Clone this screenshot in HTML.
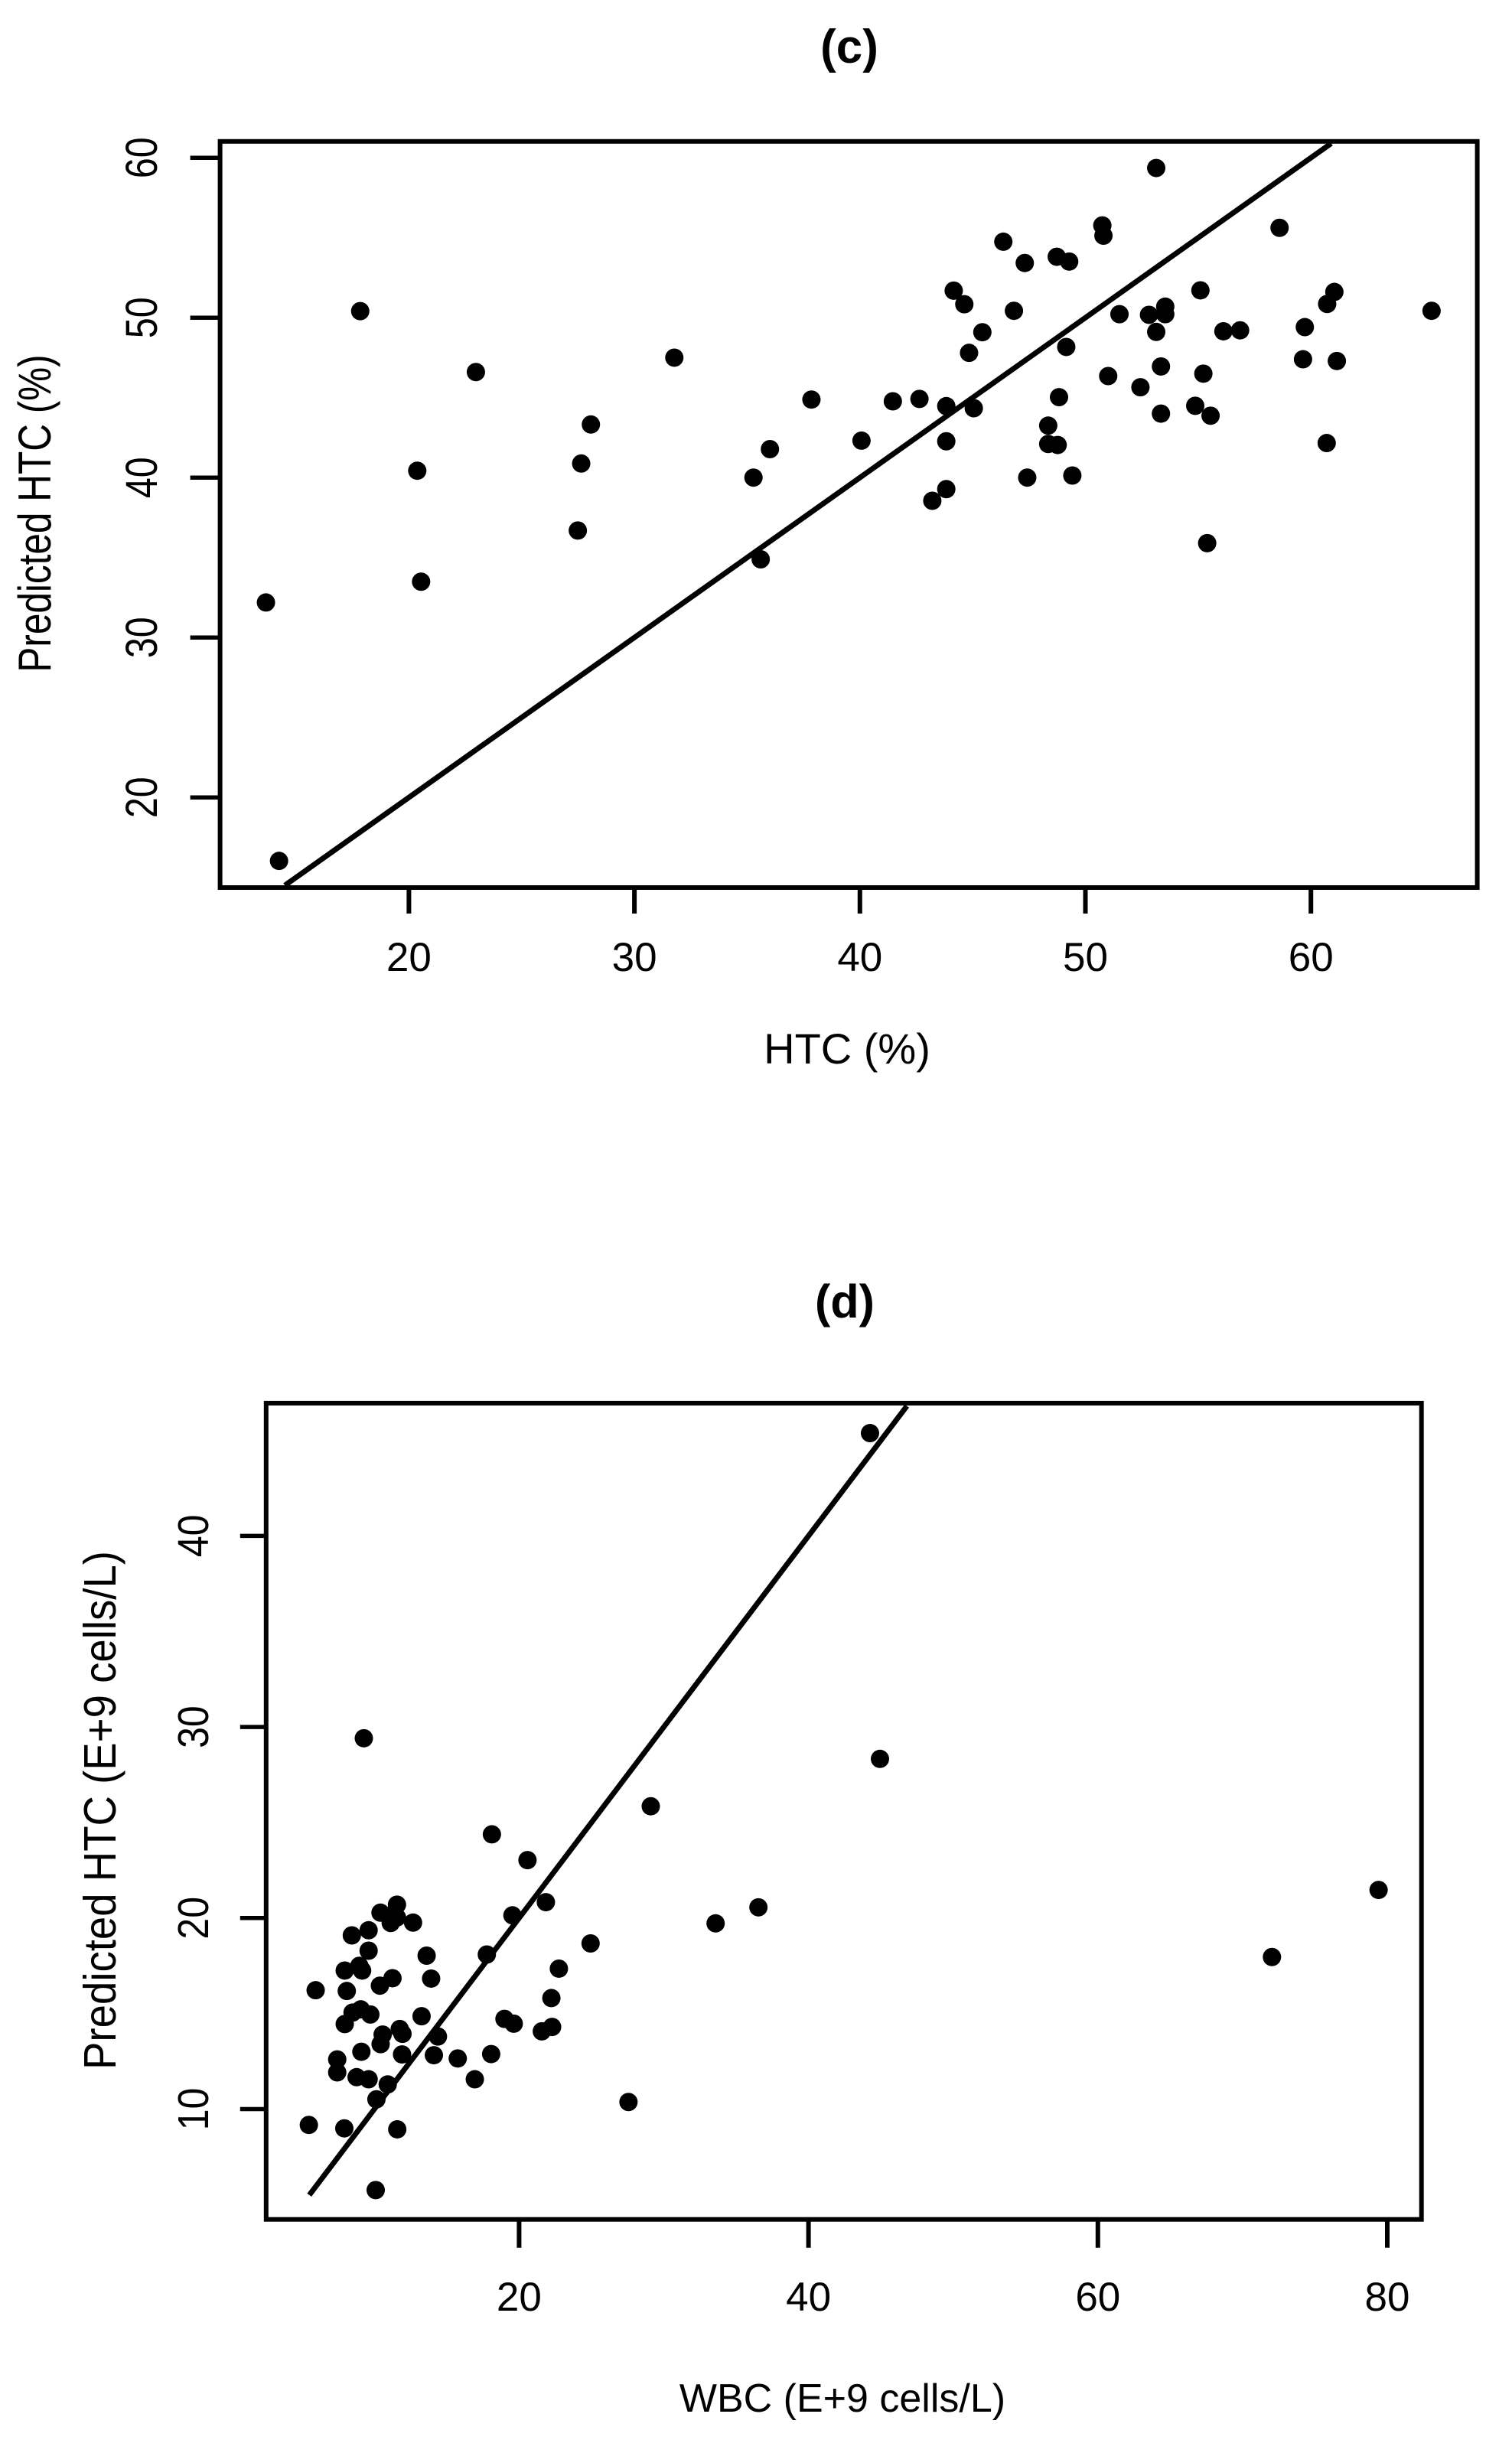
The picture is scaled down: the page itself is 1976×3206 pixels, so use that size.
<!DOCTYPE html>
<html lang="en">
<head>
<meta charset="utf-8">
<title>Predicted versus measured scatter plots</title>
<style>
html,body{margin:0;padding:0;background:#fff;}
svg{display:block;}
text{font-family:"Liberation Sans",sans-serif;fill:#000;}
</style>
</head>
<body>
<svg id="chart" xmlns="http://www.w3.org/2000/svg" width="1976" height="3206" viewBox="0 0 1976 3206">
  <rect x="0" y="0" width="1976" height="3206" fill="#fff"/>
  <g id="panel-c">
    <text x="1110" y="82" font-size="62" font-weight="bold" text-anchor="middle">(c)</text>
    <text x="1107" y="1390" font-size="56" text-anchor="middle">HTC (%)</text>
    <text text-anchor="middle" font-size="50" transform="translate(66,671) rotate(-90) scale(0.99,1.2)">Predicted HTC (%)</text>
  </g>
  <g id="panel-d">
    <text x="1104" y="1722" font-size="61" font-weight="bold" text-anchor="middle">(d)</text>
    <text x="1101" y="3152" font-size="52" text-anchor="middle">WBC (E+9 cells/L)</text>
    <text text-anchor="middle" font-size="52" transform="translate(151,2366) rotate(-90) scale(1.05,1.14)">Predicted HTC (E+9 cells/L)</text>
  </g>
</svg>
<script>
// Panel (c) data
const cXTicks = [20, 30, 40, 50, 60];
const cYTicks = [20, 30, 40, 50, 60];
const cActual = [17.84,22.97,31.77,28.07,20.37,27.64,35.28,27.49,13.66,20.54,14.24,35.6,53.14,50.75,50.8,58.61,46.36,47.31,48.73,49.28,44.16,44.63,46.83,55.1,61.04,60.72,65.35,51.51,52.82,53.54,53.54,45.43,44.84,53.14,49.15,56.12,56.86,59.73,59.65,61.15,53.35,51.01,52.44,55.23,37.85,41.46,42.64,43.83,45.05,48.83,48.35,53.35,54.87,55.55,40.07,43.83,48.35,48.77,60.7,47.42,49.42,43.83,43.21,36.01,55.4];
const cPredicted = [50.41,46.6,47.5,43.32,40.43,40.88,40,36.69,32.19,33.49,16.03,34.89,59.36,55.77,55.13,55.62,54.75,53.42,53.81,53.51,51.69,50.84,50.43,51.71,51.61,50.86,50.43,50.22,50.18,50.69,50.22,49.09,47.8,49.11,48.17,49.15,49.21,49.41,47.4,47.29,46.95,46.35,45.65,46.5,44.88,44.77,44.92,44.47,44.34,45.03,43.25,44,44.49,43.87,42.31,42.27,42.1,42.04,42.16,40,40.13,39.28,38.55,41.78,35.9];
const cLineX = [14.5, 60.9];
const cLineY = [14.5, 60.9];

// Panel (d) data
const dXTicks = [20, 40, 60, 80];
const dYTicks = [10, 20, 30, 40];
const dActual = [9.27,29.1,18.12,20.58,21.85,19.54,36.54,33.58,11.56,10.42,11.09,11.13,11.56,12.67,8.44,9.6,9.6,24.94,13.61,17.77,8.96,7.95,9.15,22.75,13.92,11.25,10.38,5.94,8.09,22.23,9.06,8.49,9.72,7.95,13.26,18.99,19.63,22.28,21.57,10.57,11.75,11.94,10.43,14.39,9.1,11.91,14.11,18.07,15.76,7.43,7.43,8.77,9.6,10.92,16.94,10.14,27.56,5.47,7.92,11.58,10.09,44.25,44.94,72.03,79.4];
const dPredicted = [29.41,25.85,24.38,23.03,20.83,20.14,20.56,19.72,20.7,20.28,20.12,19.74,20.03,19.76,19.09,19.36,18.29,18.67,18.03,18.09,17.5,17.25,17.25,17.35,16.83,16.85,16.46,16.22,16.18,15.81,15.22,15.05,14.95,14.45,14.86,14.72,14.47,14.3,14.07,13.9,14.19,13.94,13.4,13.8,13,12.86,12.82,12.88,12.65,12.6,11.92,11.67,11.56,11.29,11.56,10.51,10.37,9.17,8.99,8.94,5.76,45.38,28.33,17.96,21.47];
const dLineX = [5.5, 46.8];
const dLineY = [5.5, 46.8];

const SVGNS = 'http://www.w3.org/2000/svg';

function linearScale(refValue, refPixel, pixelsPerUnit) {
  return function (v) { return refPixel + (v - refValue) * pixelsPerUnit; };
}

function svgEl(tag, parent) {
  const el = document.createElementNS(SVGNS, tag);
  parent.appendChild(el);
  return el;
}

function drawPanel(group, prefix, layout, xs, ys, xTicks, yTicks, lineX, lineY, xVals, yVals) {
  // fitted line
  const fit = svgEl('line', group);
  
  
  fit.setAttribute('x1', xs(lineX[0]));
  fit.setAttribute('y1', ys(lineY[0]));
  fit.setAttribute('x2', xs(lineX[1]));
  fit.setAttribute('y2', ys(lineY[1]));
  fit.setAttribute('stroke', '#000');
  fit.setAttribute('stroke-width', 7);

  // points
  xVals.forEach(function (xv, i) {
    const c = svgEl('circle', group);
    
    
    c.setAttribute('cx', xs(xv));
    c.setAttribute('cy', ys(yVals[i]));
    c.setAttribute('r', 12);
    c.setAttribute('fill', '#000');
  });

  // plot frame
  const frame = svgEl('rect', group);
  
  
  frame.setAttribute('x', layout.left);
  frame.setAttribute('y', layout.top);
  frame.setAttribute('width', layout.right - layout.left);
  frame.setAttribute('height', layout.bottom - layout.top);
  frame.setAttribute('fill', 'none');
  frame.setAttribute('stroke', '#000');
  frame.setAttribute('stroke-width', 6);

  // x axis ticks
  xTicks.forEach(function (t) {
    const tick = svgEl('line', group);
    
    
    tick.setAttribute('x1', xs(t));
    tick.setAttribute('x2', xs(t));
    tick.setAttribute('y1', layout.bottom);
    tick.setAttribute('y2', layout.bottom + layout.xTickLen);
    tick.setAttribute('stroke', '#000');
    tick.setAttribute('stroke-width', 6);

    const label = svgEl('text', group);
    
    
    label.setAttribute('x', xs(t));
    label.setAttribute('y', layout.xLabelBaseline);
    label.setAttribute('text-anchor', 'middle');
    label.setAttribute('font-size', layout.tickFont);
    label.textContent = String(t);
  });

  // y axis ticks
  yTicks.forEach(function (t) {
    const tick = svgEl('line', group);
    
    
    tick.setAttribute('x1', layout.left - layout.yTickLen);
    tick.setAttribute('x2', layout.left);
    tick.setAttribute('y1', ys(t));
    tick.setAttribute('y2', ys(t));
    tick.setAttribute('stroke', '#000');
    tick.setAttribute('stroke-width', 5.5);

    const label = svgEl('text', group);
    
    
    label.setAttribute('text-anchor', 'middle');
    label.setAttribute('font-size', layout.yTickFont);
    label.setAttribute('transform', 'translate(' + layout.yLabelBaseline + ',' + ys(t) + ') rotate(-90) scale(' + layout.yLabelScaleAlong + ',' + layout.yLabelScaleAcross + ')');
    label.textContent = String(t);
  });
}

drawPanel(
  document.getElementById('panel-c'), 'c',
  { left: 287.6, right: 1930.6, top: 184.8, bottom: 1160, xTickLen: 34, yTickLen: 39, xLabelBaseline: 1269, yLabelBaseline: 205, tickFont: 53, yTickFont: 51, yLabelScaleAlong: 0.95, yLabelScaleAcross: 1.14 },
  linearScale(20, 534.4, 29.47),
  linearScale(20, 1042.2, -20.9),
  cXTicks, cYTicks, cLineX, cLineY, cActual, cPredicted
);

drawPanel(
  document.getElementById('panel-d'), 'd',
  { left: 347.8, right: 1857.7, top: 1833.9, bottom: 2900.7, xTickLen: 37, yTickLen: 34, xLabelBaseline: 3020, yLabelBaseline: 272, tickFont: 53, yTickFont: 51, yLabelScaleAlong: 0.98, yLabelScaleAcross: 1.1 },
  linearScale(20, 678.4, 18.91),
  linearScale(10, 2756.5, -24.97),
  dXTicks, dYTicks, dLineX, dLineY, dActual, dPredicted
);
</script>
</body>
</html>
